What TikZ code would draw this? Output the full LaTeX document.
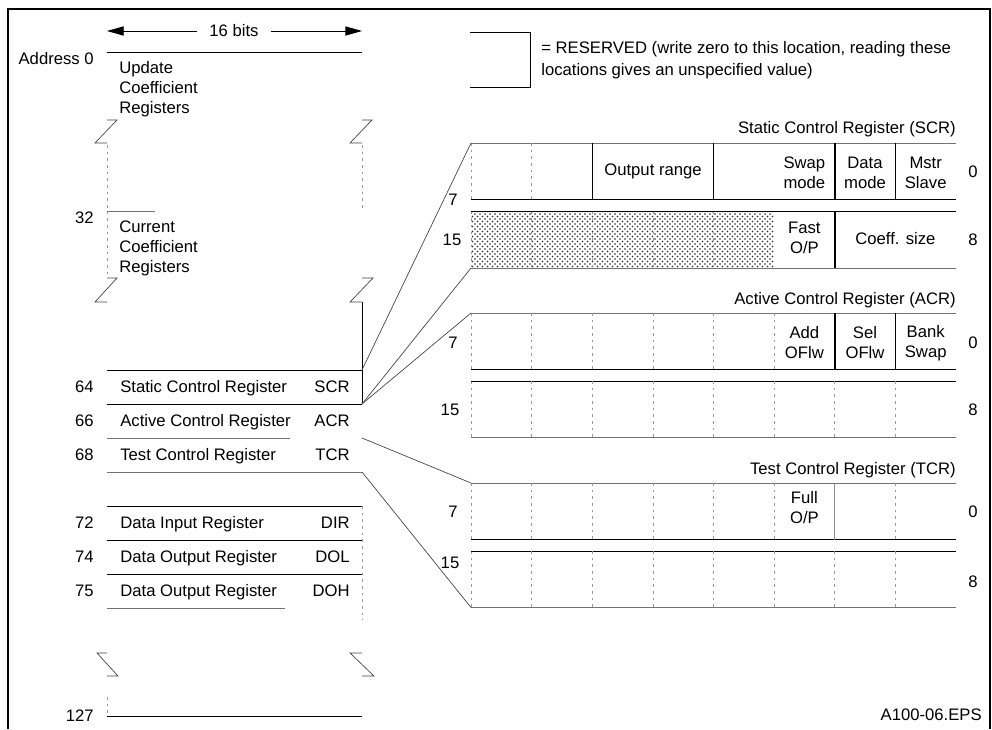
\documentclass[tikz,border=0pt]{standalone}
\usepackage{fontspec}
\setmainfont{Liberation Sans}
\usetikzlibrary{arrows.meta,patterns}

\begin{document}
\begin{tikzpicture}[x=0.6pt,y=-0.6pt,
  every node/.style={inner sep=0pt, font=\fontsize{10}{12}\selectfont},
  rule/.style={line width=0.5pt},
  faint/.style={line width=0.4pt, dash pattern=on 1.5pt off 2.5pt, black!40},
  outer/.style={line width=0.45pt, black!55},
  bold/.style={line width=1pt},
  grule/.style={line width=0.8pt, black!45},
  link/.style={line width=0.4pt, black!75},
  two/.style={align=center}]
\useasboundingbox (0,0) rectangle (992,729);

% Frame
\draw[line width=0.9pt] (8,729) -- (8,9) -- (990,9) -- (990,729);

% Define the memory map
\coordinate (bitsL) at (107,31);
\coordinate (bitsR) at (362,31);
\node[inner xsep=7pt] (bits) at (234,31) {16 bits};
\draw[rule,-{Triangle[length=10pt,width=5.5pt]}] (bits) -- (bitsL);
\draw[rule,-{Triangle[length=10pt,width=5.5pt]}] (bits) -- (bitsR);

\node[anchor=mid east] (adr0) at (94,60) {Address 0};
\node[anchor=west, align=left] (upd) at (119,89) {Update\\Coefficient\\Registers};
\node[anchor=mid east] (adr32) at (94,219) {32};
\node[anchor=west, align=left] (cur) at (119,248) {Current\\Coefficient\\Registers};
\node[anchor=mid east] (adr127) at (94,717) {127};

\foreach \adr/\txt/\abbr/\y in {64/Static Control Register/SCR/388,
    66/Active Control Register/ACR/422, 68/Test Control Register/TCR/456,
    72/Data Input Register/DIR/524, 74/Data Output Register/DOL/558,
    75/Data Output Register/DOH/592}{
  \node[anchor=mid east] (a\adr) at (94,\y) {\adr};
  \node[anchor=mid west] (n\adr) at (120,\y) {\txt};
  \node[anchor=mid east] (r\adr) at (350,\y) {\abbr};
}

% map outlines
\draw[rule] (107,52) -- (362,52);
\draw[faint] (107,145) -- (107,278);
\draw[faint] (362,145) -- (362,211);
\draw[outer] (107,211) -- (155,211);
\draw[rule] (362,302) -- (362,404);
\draw[rule] (107,370) -- (362,370);
\draw[rule] (107,404) -- (362,404);
\draw[outer] (107,438) -- (290,438);
\draw[outer] (107,472) -- (362,472);
\draw[rule] (107,506) -- (362,506);
\draw[rule] (107,540) -- (362,540);
\draw[rule] (107,574) -- (362,574);
\draw[outer] (107,608) -- (285,608);
\draw[faint] (362,506) -- (362,620);
\draw[faint] (107,697) -- (107,716);
\draw[rule] (107,716) -- (362,716);

% break marks
\draw[link] (107,120) -- (117,120) -- (95,143) -- (107,143);
\draw[link] (362,120) -- (372,120) -- (350,143) -- (362,143);
\draw[link] (107,278) -- (117,278) -- (95,302) -- (107,302);
\draw[link] (362,278) -- (373,278) -- (350,302) -- (362,302);
\draw[link] (107,653) -- (97,653) -- (118,676) -- (107,676);
\draw[link] (362,653) -- (350,653) -- (374,676) -- (362,676);

% Define the control registers
\node[anchor=mid east] (tSCR) at (956,129) {Static Control Register (SCR)};
\node[anchor=mid east] (tACR) at (956,300) {Active Control Register (ACR)};
\node[anchor=mid east] (tTCR) at (956,470) {Test Control Register (TCR)};

\fill[pattern=crosshatch dots, pattern color=black!85] (471,211.5) rectangle (774.1,268);

\foreach \t in {143,211.5,313,381,483,551}{
  \draw[faint] (471,\t) -- ++(0,56.5);
}
\foreach \t in {143,313,483}{
  \draw[outer] (471,\t) -- (956,\t);
  \draw[rule] (471,\t+56.5) -- (956,\t+56.5);
}
\foreach \t in {211.5,381,551}{
  \draw[rule] (471,\t) -- (956,\t);
  \draw[outer] (471,\t+56.5) -- (956,\t+56.5);
}
\foreach \t/\i/\s in {143/1/faint, 143/2/rule, 143/4/rule, 143/6/bold, 143/7/bold,
    211.5/1/faint, 211.5/2/faint, 211.5/3/faint, 211.5/4/faint, 211.5/6/bold,
    313/1/faint, 313/2/faint, 313/3/faint, 313/4/faint, 313/5/faint, 313/6/bold, 313/7/bold,
    381/1/faint, 381/2/faint, 381/3/faint, 381/4/faint, 381/5/faint, 381/6/faint, 381/7/faint,
    483/1/faint, 483/2/faint, 483/3/faint, 483/4/faint, 483/5/faint, 483/6/grule, 483/7/faint,
    551/1/faint, 551/2/faint, 551/3/faint, 551/4/faint, 551/5/faint, 551/6/faint, 551/7/faint}{
  \draw[\s] ({471+60.625*\i},\t) -- ++(0,56.5);
}

% SCR fields
\node (outr) at (653,171) {Output range};
\node[two] (swap) at (804.4,173) {Swap\\mode};
\node[two] (dmode) at (865,173) {Data\\mode};
\node[two] (mstr) at (925.7,173) {Mstr\\Slave};
\node[two] (fast) at (804.4,238) {Fast\\O/P};
\node (csize) at (895.4,239) {Coeff. size};
\node (s7) at (453,200) {7};
\node (s15) at (452,240) {15};
\node (s0) at (973,172) {0};
\node (s8) at (973,240) {8};

% ACR fields
\node[two] (addo) at (804.4,343) {Add\\OFlw};
\node[two] (selo) at (865,343) {Sel\\OFlw};
\node[two] (bank) at (925.7,343) {Bank\\Swap};
\node (a7) at (453,343) {7};
\node (a15) at (450,410) {15};
\node (a0) at (973,343) {0};
\node (a8) at (973,410) {8};

% TCR fields
\node[two] (full) at (804.4,508) {Full\\O/P};
\node (c7) at (453,512) {7};
\node (c15) at (450,563) {15};
\node (c0) at (973,512) {0};
\node (c8) at (973,582) {8};

% Reserved key
\draw[rule] (470,32) -- (530,32) -- (530,87) -- (470,87);
\node[anchor=west, align=left] (resv) at (541,60)
  {= RESERVED (write zero to this location, reading these\\[1.2pt]locations gives an unspecified value)};

\node[anchor=mid east] (fig) at (982,716) {A100-06.EPS};

% Draw links between map and registers
\coordinate (mSCRne) at (362,370);
\coordinate (mSCRse) at (362,404);
\coordinate (mACRse) at (362,438);
\coordinate (mTCRse) at (362,472);
\coordinate (rSCRnw) at (471,143);
\coordinate (rSCRsw) at (471,268);
\coordinate (rACRnw) at (471,313);
\coordinate (rTCRnw) at (471,483);
\coordinate (rTCRsw) at (471,607.5);
\draw[link] (mSCRne) -- (rSCRnw);
\draw[link] (mSCRse) -- (rSCRsw);
\draw[link] (mSCRse) -- (rACRnw);
\draw[link] (mACRse) -- (rTCRnw);
\draw[link] (mTCRse) -- (rTCRsw);
\end{tikzpicture}
\end{document}
